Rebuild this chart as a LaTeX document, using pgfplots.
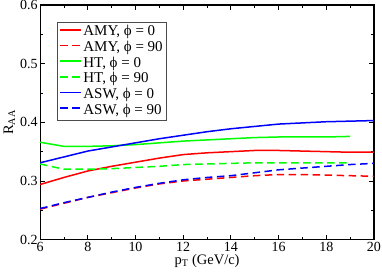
\documentclass[border=0pt]{standalone}
\usepackage{fontspec}
\setmainfont{Liberation Serif}
\usepackage{pgfplots}
\pgfplotsset{compat=1.18}
\begin{document}
\begin{tikzpicture}
\begin{axis}[
  scale only axis, width=333bp, height=234bp,
  xmin=6, xmax=20, ymin=0.2, ymax=0.6,
  xtick={6,8,...,20}, ytick={0.2,0.3,...,0.6},
  minor x tick num=1, minor y tick num=1,
  tick align=inside, major tick length=5bp, minor tick length=3bp,
  tick style={black, line width=0.8pt},
  axis line style={line width=1.1pt},
  /pgf/number format/assume math mode=true,
  yticklabel style={/pgf/number format/fixed, /pgf/number format/precision=1, /pgf/number format/fixed zerofill, xshift=1bp},
  xticklabel style={yshift=1bp},
  ticklabel style={font=\fontsize{14}{16}\selectfont},
  xlabel={p\textsubscript{T} (GeV/c)},
  ylabel={R\textsubscript{AA}},
  label style={font=\fontsize{14.5}{16}\selectfont},
  xlabel style={yshift=4bp},
  ylabel style={yshift=-2bp},
  legend cell align=left,
  legend style={at={(17bp,217bp)}, anchor=north west, font=\fontsize{15}{16}\selectfont, draw=black!70, line width=0.6pt, row sep=0pt, inner sep=2pt,
    nodes={text height=10.6bp, text depth=3bp, inner ysep=1bp}},
  legend image code/.code={\draw[#1] (0cm,0.5ex) -- (0.72cm,0.5ex);},
  every axis plot/.append style={line width=1.5pt},
]
\addplot[red] coordinates {(6,0.294) (7,0.306) (8,0.317) (9,0.325) (10,0.332) (11,0.339) (12,0.345) (13,0.348) (14,0.350) (15,0.352) (16,0.352) (17,0.351) (18,0.350) (19,0.349) (20,0.349)};
\addlegendentry{AMY, ϕ = 0}
\addplot[red, dash pattern=on 7.5pt off 4.5pt] coordinates {(6,0.252) (7,0.262) (8,0.272) (9,0.280) (10,0.288) (11,0.295) (12,0.300) (13,0.303) (14,0.306) (15,0.309) (16,0.311) (17,0.311) (18,0.310) (19,0.309) (20,0.308)};
\addlegendentry{AMY, ϕ = 90\hspace{4pt}}
\addplot[green] coordinates {(6,0.366) (7,0.359) (8,0.359) (9,0.360) (10,0.362) (11,0.365) (12,0.368) (13,0.370) (14,0.372) (15,0.374) (16,0.375) (17,0.375) (18,0.375) (19,0.376)};
\addlegendentry{HT, ϕ = 0}
\addplot[green, dash pattern=on 7.5pt off 4.5pt] coordinates {(6,0.329) (7,0.320) (8,0.320) (9,0.321) (10,0.323) (11,0.325) (12,0.328) (13,0.329) (14,0.330) (15,0.331) (16,0.331) (17,0.331) (18,0.331) (19,0.331)};
\addlegendentry{HT, ϕ = 90}
\addplot[blue] coordinates {(6,0.331) (7,0.341) (8,0.351) (9,0.358) (10,0.365) (11,0.372) (12,0.378) (13,0.384) (14,0.389) (15,0.393) (16,0.397) (17,0.399) (18,0.401) (19,0.402) (20,0.403)};
\addlegendentry{ASW, ϕ = 0}
\addplot[blue, dash pattern=on 7.5pt off 4.5pt] coordinates {(6,0.253) (7,0.263) (8,0.272) (9,0.281) (10,0.289) (11,0.296) (12,0.302) (13,0.306) (14,0.309) (15,0.314) (16,0.319) (17,0.322) (18,0.325) (19,0.328) (20,0.330)};
\addlegendentry{ASW, ϕ = 90}
\end{axis}
\pgfresetboundingbox
\path (current axis.south west) ++(-40bp,-33bp) rectangle ([shift={(8bp,5bp)}]current axis.north east);
\end{tikzpicture}
\end{document}
